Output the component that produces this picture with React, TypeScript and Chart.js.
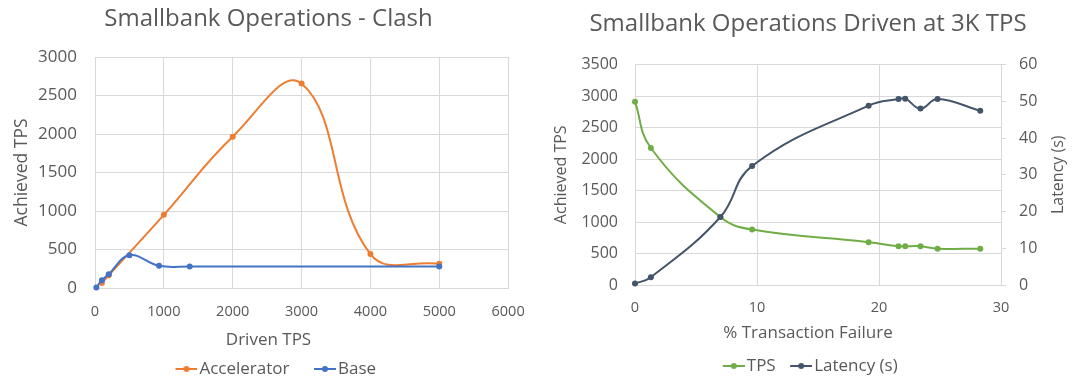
import { useEffect, useRef } from "react";
import { Chart, registerables } from "chart.js";

Chart.register(...registerables);
Chart.defaults.font.family = "'Open Sans', 'Noto Sans', sans-serif";
Chart.defaults.color = "#595959";

// Smallbank clash run: driven load vs achieved throughput
const acceleratorDriven = [100, 200, 1000, 2000, 3000, 4000, 5000];
const acceleratorAchieved = [65, 165, 950, 1965, 2655, 440, 315];
const baseDriven = [20, 100, 200, 500, 930, 1375, 5000];
const baseAchieved = [5, 100, 180, 425, 288, 280, 280];

// Smallbank driven at 3K TPS: failure rate vs throughput and latency
const failurePct = [0, 1.3, 7.0, 9.6, 19.15, 21.6, 22.15, 23.4, 24.8, 28.3];
const tpsAchieved = [2910, 2175, 1080, 880, 680, 615, 615, 615, 577, 577];
const latencySec = [0.4, 2.1, 18.5, 32.4, 48.8, 50.6, 50.7, 48.0, 50.6, 47.4];

// axis ranges
const drivenAxis = { min: 0, max: 6000, step: 1000 };
const clashTpsAxis = { min: 0, max: 3000, step: 500 };
const failureAxis = { min: 0, max: 30, step: 10 };
const runTpsAxis = { min: 0, max: 3500, step: 500 };
const latencyAxis = { min: 0, max: 60, step: 10 };

const TEXT = "#595959";
const GRID = "#d9d9d9";
const ORANGE = "#ED7D31";
const BLUE = "#4472C4";
const GREEN = "#70AD47";
const NAVY = "#44546A";

const latencyTitle = "Latency (s)";

const pairs = (xs: number[], ys: number[]) => xs.map((x, i) => ({ x, y: ys[i] }));
const plain = (v: any) => String(v);

// legend swatch: a short line with a dot, with transparent lead-in for spacing
function swatch(color: string, lead: number): HTMLCanvasElement {
  const c = document.createElement("canvas");
  c.width = lead + 22;
  c.height = 8;
  const g = c.getContext("2d")!;
  g.strokeStyle = color;
  g.lineWidth = 2;
  g.beginPath();
  g.moveTo(lead, 4);
  g.lineTo(lead + 22, 4);
  g.stroke();
  g.fillStyle = color;
  g.beginPath();
  g.arc(lead + 11, 4, 3, 0, Math.PI * 2);
  g.fill();
  return c;
}

function legendOptions(swatches: HTMLCanvasElement[], lead: number) {
  return {
    display: true,
    position: "bottom" as const,
    labels: {
      usePointStyle: true,
      pointStyleWidth: lead + 9,
      padding: 10,
      color: TEXT,
      font: { size: 17 },
      generateLabels: (chart: Chart) => {
        const items = (Chart.defaults.plugins.legend.labels as any).generateLabels(chart);
        return items
          .map((it: any) => ({ ...it, pointStyle: swatches[it.datasetIndex] }))
          .sort((a: any, b: any) => a.datasetIndex - b.datasetIndex);
      },
    },
  };
}

function lineSet(label: string, data: any[], color: string, order: number, yAxisID = "y") {
  return {
    label,
    data,
    yAxisID,
    order,
    borderColor: color,
    backgroundColor: color,
    borderWidth: 2,
    tension: 0.42,
    pointRadius: 3,
    pointHoverRadius: 3,
    pointBorderWidth: 0,
    clip: 6,
  };
}

const rotatedLatencyTitle = {
  id: "rotatedLatencyTitle",
  afterDraw(chart: Chart) {
    const { ctx, chartArea } = chart;
    const s = chart.scales.y1;
    ctx.save();
    ctx.translate(s.right - 18, (chartArea.top + chartArea.bottom) / 2);
    ctx.rotate(-Math.PI / 2);
    ctx.font = "16px 'Open Sans', 'Noto Sans', sans-serif";
    ctx.fillStyle = TEXT;
    ctx.textAlign = "center";
    ctx.textBaseline = "middle";
    ctx.fillText(latencyTitle, 0, 0);
    ctx.restore();
  },
};

export default function App() {
  const leftRef = useRef<HTMLCanvasElement>(null);
  const rightRef = useRef<HTMLCanvasElement>(null);

  useEffect(() => {
    document.body.style.overflow = "hidden";
    const leftLead = 21;
    const rightLead = 11;

    const left = new Chart(leftRef.current!, {
      type: "line",
      data: {
        datasets: [
          lineSet("Accelerator", pairs(acceleratorDriven, acceleratorAchieved), ORANGE, 1),
          lineSet("Base", pairs(baseDriven, baseAchieved), BLUE, 0),
        ] as any,
      },
      options: {
        responsive: false,
        animation: false,
        devicePixelRatio: 1,
        events: [],
        layout: { padding: { left: 20, right: 23, top: 0, bottom: 0.5 } },
        scales: {
          x: {
            type: "linear",
            min: drivenAxis.min,
            max: drivenAxis.max,
            ticks: { stepSize: drivenAxis.step, padding: 15.3, font: { size: 14.5 }, color: TEXT, callback: plain },
            grid: { color: GRID, drawTicks: false },
            border: { color: GRID },
            afterFit: (s: any) => { s.height = 41.8; },
          },
          y: {
            type: "linear",
            min: clashTpsAxis.min,
            max: clashTpsAxis.max,
            ticks: { stepSize: clashTpsAxis.step, padding: 18, font: { size: 17 }, color: TEXT, callback: plain },
            grid: { color: GRID, drawTicks: false },
            border: { color: GRID },
            title: { display: true, text: "Achieved TPS", color: TEXT, font: { size: 17.5 }, padding: { top: -8.5, bottom: 0 } },
            afterFit: (s: any) => { s.width = 75; },
          },
        },
        plugins: {
          title: {
            display: true,
            text: "Smallbank Operations - Clash",
            color: TEXT,
            font: { size: 24, weight: "normal" },
            padding: { top: 4.6, bottom: 23.6 },
          },
          subtitle: {
            display: true,
            position: "bottom",
            weight: 500,
            text: "Driven TPS",
            color: TEXT,
            font: { size: 17, weight: "normal" },
            padding: { top: 0, bottom: 0.3 },
          } as any,
          legend: legendOptions([swatch(ORANGE, leftLead), swatch(BLUE, leftLead)], leftLead) as any,
          tooltip: { enabled: false },
        },
      },
    });

    const right = new Chart(rightRef.current!, {
      type: "line",
      data: {
        datasets: [
          lineSet("TPS", pairs(failurePct, tpsAchieved), GREEN, 1, "y"),
          lineSet("Latency (s)", pairs(failurePct, latencySec), NAVY, 0, "y1"),
        ] as any,
      },
      options: {
        responsive: false,
        animation: false,
        devicePixelRatio: 1,
        events: [],
        layout: { padding: { left: 0, right: 0, top: 0, bottom: 3.5 } },
        scales: {
          x: {
            type: "linear",
            min: failureAxis.min,
            max: failureAxis.max,
            ticks: { stepSize: failureAxis.step, padding: 14.3, font: { size: 14.5 }, color: TEXT, callback: plain },
            grid: { color: GRID, drawTicks: false },
            border: { color: GRID },
            afterFit: (s: any) => { s.height = 37.8; },
          },
          y: {
            type: "linear",
            position: "left",
            min: runTpsAxis.min,
            max: runTpsAxis.max,
            ticks: { stepSize: runTpsAxis.step, padding: 17, font: { size: 16 }, color: TEXT, callback: plain },
            grid: { color: GRID, drawTicks: false },
            border: { color: GRID },
            title: { display: true, text: "Achieved TPS", color: TEXT, font: { size: 16 }, padding: { top: 11.4, bottom: 0 } },
            afterFit: (s: any) => { s.width = 95; },
          },
          y1: {
            type: "linear",
            position: "right",
            min: latencyAxis.min,
            max: latencyAxis.max,
            ticks: { stepSize: latencyAxis.step, padding: 13, font: { size: 16 }, color: TEXT, callback: plain },
            grid: { color: GRID, drawOnChartArea: false, drawTicks: true, tickLength: 5 },
            border: { color: GRID },
            afterFit: (s: any) => { s.width = 75; },
          },
        },
        plugins: {
          title: {
            display: true,
            text: "Smallbank Operations Driven at 3K TPS",
            color: TEXT,
            font: { size: 24, weight: "normal" },
            padding: { top: 9.6, bottom: 26.1 },
          },
          subtitle: {
            display: true,
            position: "bottom",
            weight: 500,
            text: "% Transaction Failure",
            color: TEXT,
            font: { size: 17, weight: "normal" },
            padding: { top: 0, bottom: 4.3 },
          } as any,
          legend: legendOptions([swatch(GREEN, rightLead), swatch(NAVY, rightLead)], rightLead) as any,
          tooltip: { enabled: false },
        },
      },
      plugins: [rotatedLatencyTitle],
    });

    return () => {
      left.destroy();
      right.destroy();
    };
  }, []);

  return (
    <div style={{ position: "fixed", left: 0, top: 0, width: 1076, height: 379, overflow: "hidden", background: "#fff" }}>
      <canvas ref={leftRef} width={540} height={388} style={{ position: "absolute", left: 0, top: 0 }} />
      <canvas ref={rightRef} width={536} height={388} style={{ position: "absolute", left: 540, top: 0 }} />
    </div>
  );
}
